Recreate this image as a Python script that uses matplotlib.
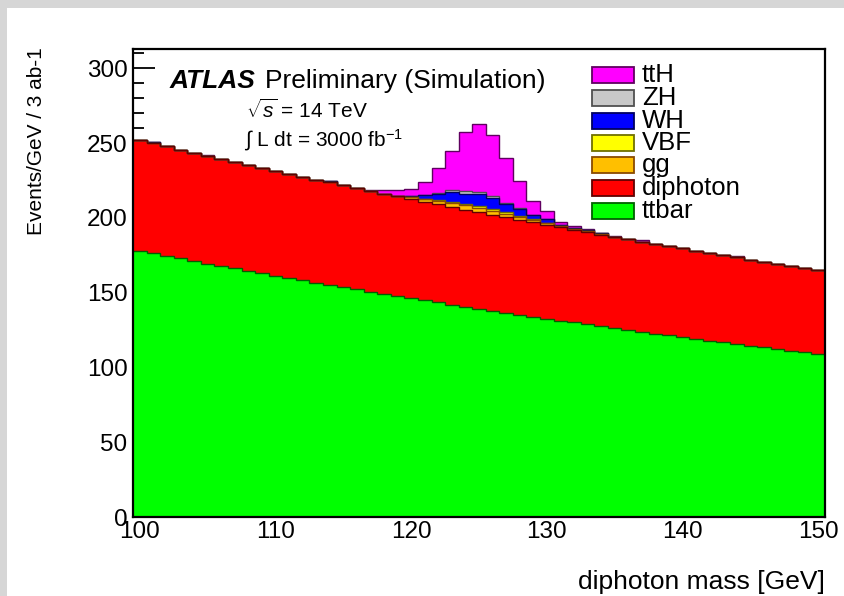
import numpy as np
import matplotlib
matplotlib.use("Agg")
import matplotlib.pyplot as plt
from matplotlib.patches import Rectangle

plt.rcParams["font.family"] = ["Liberation Sans", "DejaVu Sans"]
plt.rcParams["mathtext.fontset"] = "custom"
plt.rcParams["mathtext.rm"] = "Liberation Sans"
plt.rcParams["mathtext.it"] = "Liberation Sans:italic"
plt.rcParams["mathtext.bf"] = "Liberation Sans:bold"

# Diphoton mass bin centres [GeV], 1 GeV bins
mass = list(range(100, 151))

# Events / GeV per bin for each process
ttbar = [178.0, 176.3, 174.6, 172.9, 171.2, 169.5, 167.8, 166.2, 164.6, 163.0,
         161.4, 159.8, 158.3, 156.7, 155.2, 153.7, 152.2, 150.7, 149.2, 147.8,
         146.3, 144.9, 143.5, 142.1, 140.7, 139.3, 138.0, 136.6, 135.3, 134.0,
         132.7, 131.4, 130.1, 128.8, 127.6, 126.3, 125.1, 123.9, 122.7, 121.5,
         120.3, 119.1, 118.0, 116.8, 115.7, 114.5, 113.4, 112.3, 111.2, 110.1,
         109.0]
diphoton = [74.0, 73.6, 73.2, 72.8, 72.4, 72.0, 71.7, 71.3, 70.9, 70.5,
            70.1, 69.8, 69.3, 69.0, 68.6, 68.2, 67.8, 67.5, 67.1, 66.7,
            66.4, 66.0, 65.6, 65.3, 64.9, 64.6, 64.2, 63.9, 63.5, 63.1,
            62.7, 62.4, 62.1, 61.7, 61.3, 61.0, 60.7, 60.3, 59.9, 59.6,
            59.3, 59.0, 58.6, 58.3, 57.9, 57.7, 57.3, 57.0, 56.7, 56.3,
            56.0]
gg = [0, 0, 0, 0, 0, 0, 0, 0, 0, 0,
      0, 0, 0, 0, 0, 0, 0, 0, 0, 0,
      1.0, 2.0, 2.2, 2.8, 3.0, 2.8, 2.6, 2.2, 1.8, 1.5,
      1.2, 0.8, 0.5, 0.8, 0.4, 0, 0, 0, 0, 0,
      0, 0, 0, 0, 0, 0, 0, 0, 0, 0,
      0]
vbf = [0, 0, 0, 0, 0, 0, 0, 0, 0, 0,
       0, 0, 0, 0, 0, 0, 0, 0, 0, 0,
       0, 0, 0.4, 0.8, 0.9, 1.6, 1.5, 1.2, 0.8, 0.4,
       0.2, 0, 0, 0, 0, 0, 0, 0, 0, 0,
       0, 0, 0, 0, 0, 0, 0, 0, 0, 0,
       0]
wh = [0, 1.0, 0, 0, 0, 0, 0, 0, 0, 0,
      0, 0, 0, 0, 0.8, 0, 0, 0, 0, 0.3,
      1.0, 2.2, 4.4, 6.5, 6.8, 7.5, 7.0, 5.5, 4.5, 3.0,
      2.5, 1.0, 0.8, 0.5, 0.9, 0, 0, 0, 0, 0,
      0, 0, 0, 0, 0, 0, 0, 0, 0, 0,
      0]
zh = [0, 0, 0, 0, 0, 0, 0, 0, 0, 0,
      0, 0, 0, 0, 0, 0, 0, 0, 0, 0,
      0, 0, 0.8, 1.2, 1.5, 1.6, 1.2, 0.8, 0.5, 0,
      0, 0, 0, 0, 0, 0, 0, 0, 0, 0,
      0, 0, 0, 0, 0, 0, 0, 0, 0, 0,
      0]
tth = [0, 0, 0, 0, 0, 0.8, 0, 0, 0, 0,
       0, 0, 0, 0, 0, 0, 0.3, 0.8, 2.2, 3.7,
       5.0, 8.8, 16.7, 26.2, 39.8, 45.5, 41.2, 29.8, 18.4, 9.1,
       5.1, 1.7, 1.2, 0.5, 0, 0.5, 0, 0.8, 0, 0,
       0, 0, 0, 0, 0.8, 0, 0, 0, 0, 0,
       0]

# Stack order, bottom to top
layers = [
    ("ttbar", ttbar, "#00ff00", "#006000"),
    ("diphoton", diphoton, "#ff0000", "#600000"),
    ("gg", gg, "#ffbf00", "#8a4a00"),
    ("VBF", vbf, "#ffff00", "#707000"),
    ("WH", wh, "#0000ff", "#000060"),
    ("ZH", zh, "#c8c8c8", "#505050"),
    ("ttH", tth, "#ff00ff", "#600060"),
]

W, H = 844, 596
fig = plt.figure(figsize=(W / 100, H / 100), dpi=100)
fig.patch.set_facecolor("white")

# light grey frame strips along the top and left border
fig.patches.append(Rectangle((0, 1 - 8 / H), 1, 8 / H, transform=fig.transFigure,
                             facecolor="#d6d6d6", edgecolor="none", zorder=-10))
fig.patches.append(Rectangle((0, 0), 7 / W, 1, transform=fig.transFigure,
                             facecolor="#d6d6d6", edgecolor="none", zorder=-10))

ax = fig.add_axes([133 / W, 1 - 517 / H, (825 - 133) / W, (517 - 49) / H])

centres = np.array(mass, dtype=float)
edges = np.append(centres - 0.5, centres[-1] + 0.5)

bottom = np.zeros(len(mass))
tops = []
for name, vals, fc, ec in layers:
    top = bottom + np.asarray(vals, dtype=float)
    ax.stairs(top, edges, baseline=bottom, fill=True, color=fc, lw=0, zorder=2)
    tops.append((top, ec))
    bottom = top

for top, ec in reversed(tops):
    ax.stairs(top, edges, baseline=None, color=ec, lw=1.0, zorder=3)

ax.set_xlim(99.5, 150.5)
ax.set_ylim(0, 313)

ax.set_xticks(np.arange(100, 151, 10))
ax.set_xticks(np.arange(100, 151, 2), minor=True)
ax.set_yticks(np.arange(0, 301, 50))
ax.set_yticks(np.arange(0, 311, 10), minor=True)

ax.tick_params(axis="both", which="both", direction="in", top=False, right=False,
               labelsize=17.5, width=1.3, colors="black")
ax.tick_params(axis="x", which="major", length=11, pad=3)
ax.tick_params(axis="x", which="minor", length=6)
ax.tick_params(axis="y", which="major", length=16, pad=4)
ax.tick_params(axis="y", which="minor", length=8)
for sp in ax.spines.values():
    sp.set_linewidth(1.6)
    sp.set_zorder(5)

# axis titles
fig.text(825 / W, 1 - 582 / H, "diphoton mass [GeV]", ha="right", va="center",
         fontsize=19)
fig.text(37 / W, 1 - 47 / H, "Events/GeV / 3 ab-1", ha="center", va="top",
         rotation=90, fontsize=15)

# experiment label
fig.text(170 / W, 1 - 88 / H, "ATLAS", ha="left", va="baseline", fontsize=19,
         fontweight="bold", fontstyle="italic")
fig.text(265 / W, 1 - 88 / H, "Preliminary (Simulation)", ha="left",
         va="baseline", fontsize=19)
fig.text(246 / W, 1 - 110 / H, r"$\sqrt{s}$ = 14 TeV", ha="left", va="center",
         fontsize=15)
fig.text(244 / W, 1 - 140 / H, r"$\int$ L dt = 3000 fb$^{-1}$", ha="left",
         va="center", fontsize=15)

# legend, top entry first
row_y = [75, 98, 121, 143, 165, 188, 211]
for (name, vals, fc, ec), yc in zip(reversed(layers), row_y):
    fig.patches.append(Rectangle((592 / W, 1 - (yc + 8) / H), 42 / W, 16 / H,
                                 transform=fig.transFigure, facecolor=fc,
                                 edgecolor=ec, lw=1.3, zorder=6))
    fig.text(642 / W, 1 - yc / H, name, ha="left", va="center", fontsize=18.5,
             zorder=6)

fig.savefig("out.png", dpi=100)
